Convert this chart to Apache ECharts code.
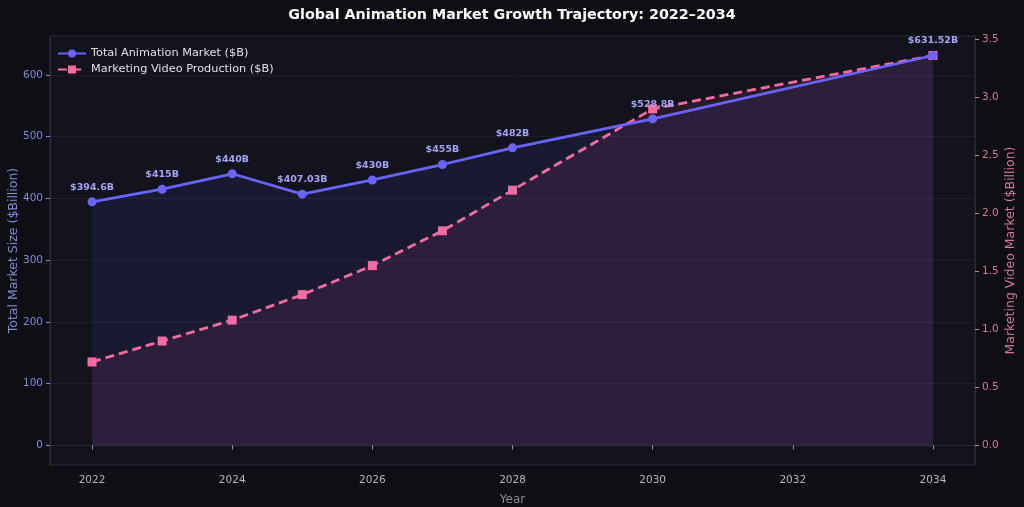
<!DOCTYPE html>
<html>
<head>
<meta charset="utf-8">
<script src="https://cdn.jsdelivr.net/npm/echarts@6/dist/echarts.min.js"></script>
<style>
  html, body { margin: 0; padding: 0; background: #0e0f15; }
  #main { width: 1024px; height: 507px; }
</style>
</head>
<body>
<div id="main"></div>
<script>
// data
const years = [2022, 2023, 2024, 2025, 2026, 2027, 2028, 2030, 2034];
const totalMarket = [394.6, 415, 440, 407.03, 430, 455, 482, 528.8, 631.52];
const marketingVideo = [0.72, 0.90, 1.08, 1.30, 1.55, 1.85, 2.20, 2.90, 3.36];
const xTicks = [2022, 2024, 2026, 2028, 2030, 2032, 2034];
const leftTicks = [0, 100, 200, 300, 400, 500, 600];
const rightTicks = [0, 0.5, 1.0, 1.5, 2.0, 2.5, 3.0, 3.5];

const font = 'DejaVu Sans';
const blue = '#6c63ff';
const pink = '#ff6b9d';

var chart = echarts.init(document.getElementById('main'));

chart.setOption({
  backgroundColor: '#0e0f15',
  animation: false,
  textStyle: { fontFamily: font },
  title: {
    text: 'Global Animation Market Growth Trajectory: 2022\u20132034',
    left: 'center', top: 3,
    textStyle: { color: '#ffffff', fontSize: 14.3, fontWeight: 'bold', fontFamily: font }
  },
  legend: {
    orient: 'vertical', left: 52, top: 43,
    itemWidth: 28, itemHeight: 10, itemGap: 5,
    textStyle: { color: '#e0e0e6', fontSize: 11.3, fontFamily: font },
    data: ['Total Animation Market ($B)', 'Marketing Video Production ($B)']
  },
  grid: {
    left: 50, right: 49, top: 36, bottom: 42, outerBoundsMode: 'none',
    show: true, backgroundColor: '#13131e', borderColor: '#2a2a36', borderWidth: 1
  },
  xAxis: {
    type: 'value', min: 2021.4, max: 2034.6,
    name: 'Year', nameLocation: 'middle', nameGap: 29,
    nameTextStyle: { color: '#8a8a92', fontSize: 12 },
    axisLine: { show: true, lineStyle: { color: '#2a2a36' } },
    axisTick: { show: true, customValues: xTicks, length: 4, lineStyle: { color: '#9a9aa2' } },
    axisLabel: { customValues: xTicks, color: '#b4b4bc', fontSize: 10.5, margin: 10,
      formatter: v => String(v) },
    splitLine: { show: false }
  },
  yAxis: [
    {
      type: 'value', min: -31.58, max: 663.1, position: 'left',
      name: 'Total Market Size ($Billion)', nameLocation: 'middle', nameGap: 30, nameRotate: 90,
      nameMoveOverlap: false,
      nameTextStyle: { color: '#8b88d9', fontSize: 12.5 },
      axisLine: { show: true, lineStyle: { color: '#2e2e3a' } },
      axisTick: { show: true, customValues: leftTicks, length: 4, lineStyle: { color: '#8b88d9' } },
      axisLabel: { customValues: leftTicks, color: '#8b88d9', fontSize: 10.5, margin: 7 },
      splitLine: { show: true, lineStyle: { color: '#20202c', width: 1 } }
    },
    {
      type: 'value', min: -0.168, max: 3.528, position: 'right',
      name: 'Marketing Video Market ($Billion)', nameLocation: 'middle', nameGap: 29, nameRotate: 90,
      nameMoveOverlap: false,
      nameTextStyle: { color: '#d4789c', fontSize: 12.5 },
      axisLine: { show: true, lineStyle: { color: '#2a2a36' } },
      axisTick: { show: true, customValues: rightTicks, length: 4, lineStyle: { color: '#d4789c' } },
      axisLabel: { customValues: rightTicks, color: '#d4789c', fontSize: 10.5, margin: 7,
        formatter: v => v.toFixed(1) },
      splitLine: { show: false }
    }
  ],
  series: [
    {
      name: 'Marketing Video Production ($B)',
      type: 'line', yAxisIndex: 1, z: 2,
      data: years.map((y, i) => [y, marketingVideo[i]]),
      symbol: 'rect', symbolSize: 9,
      itemStyle: { color: pink },
      lineStyle: { color: pink, width: 2.8, type: [9, 5] },
      areaStyle: { color: 'rgba(255,107,157,0.12)' }
    },
    {
      name: 'Total Animation Market ($B)',
      type: 'line', yAxisIndex: 0, z: 3,
      data: years.map((y, i) => [y, totalMarket[i]]),
      symbol: 'circle', symbolSize: 9,
      itemStyle: { color: blue },
      lineStyle: { color: blue, width: 2.8 },
      areaStyle: { color: 'rgba(108,99,255,0.11)' },
      label: {
        show: true, position: 'top', distance: 5,
        color: '#a5a3f5', fontSize: 9.5, fontWeight: 'bold',
        formatter: p => '$' + p.value[1] + 'B'
      }
    }
  ]
});
</script>
</body>
</html>
